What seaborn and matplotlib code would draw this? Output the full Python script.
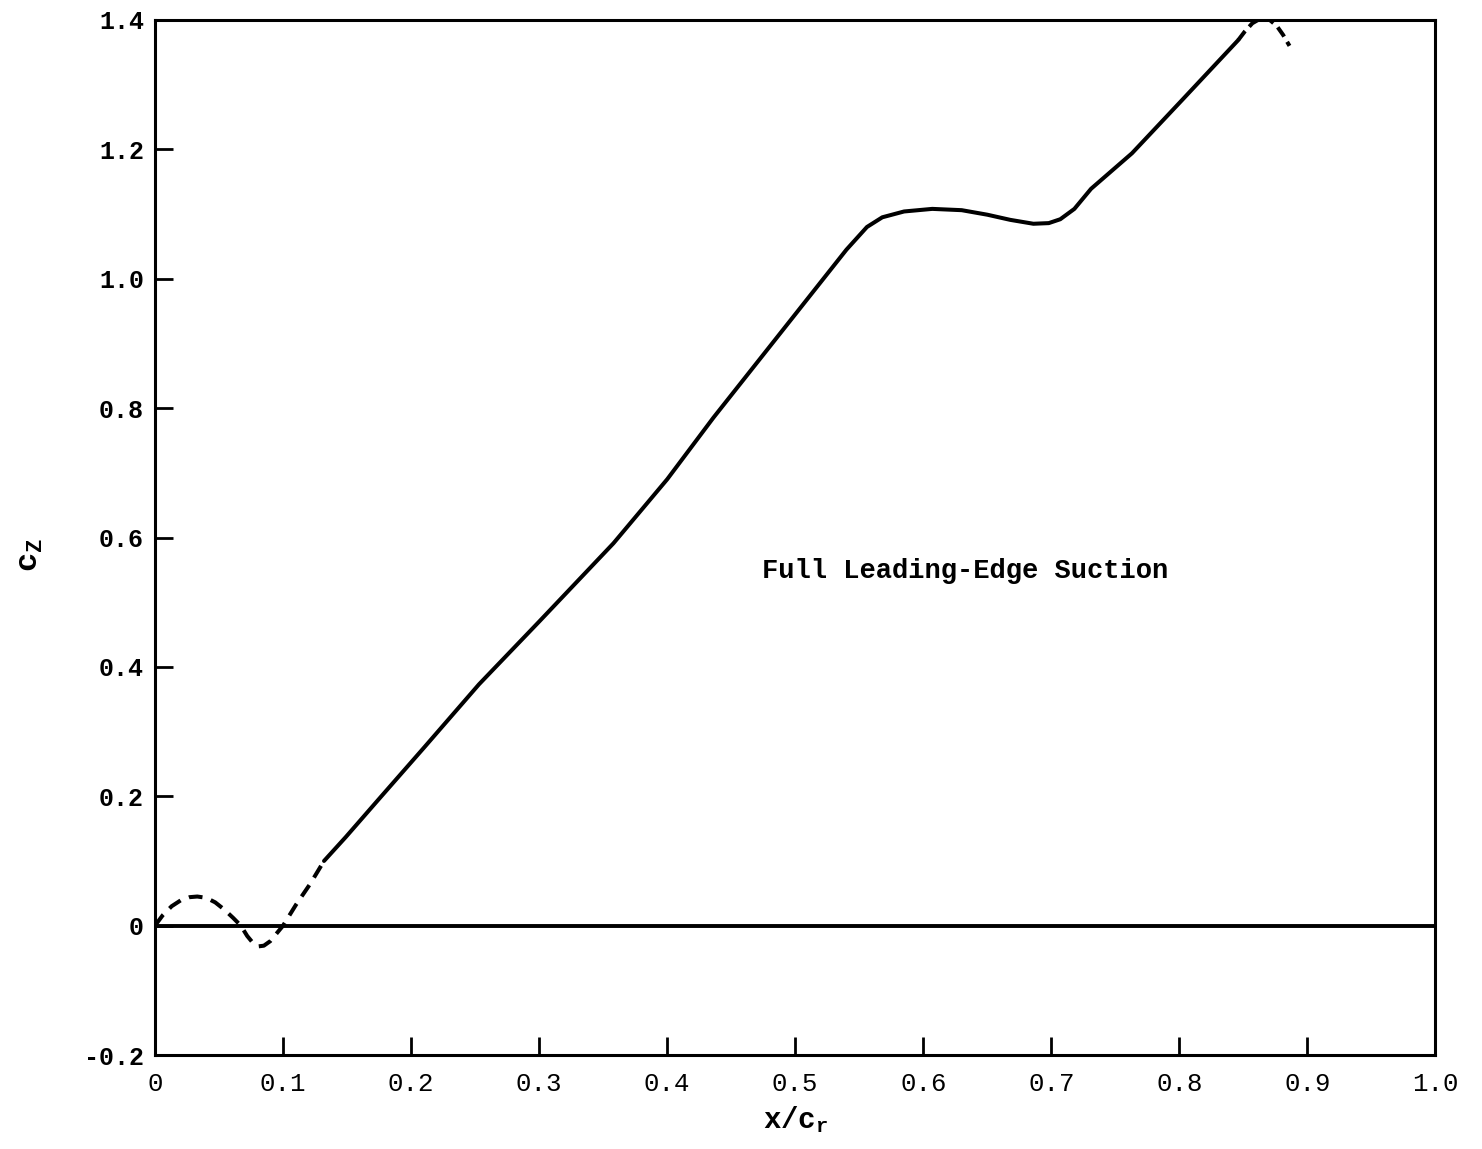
import numpy as np
import pandas as pd
import matplotlib
matplotlib.use("Agg")
import matplotlib.pyplot as plt
import seaborn as sns

# --- Data ---
# leading dashed part
x_lead = [0.0, 0.006, 0.013, 0.020, 0.027, 0.033, 0.040, 0.047, 0.054, 0.061, 0.067,
          0.072, 0.077, 0.081, 0.085, 0.090, 0.095, 0.100, 0.110, 0.121, 0.132]
y_lead = [0.0, 0.016, 0.030, 0.039, 0.044, 0.045, 0.043, 0.036, 0.025, 0.012, 0.000,
          -0.016, -0.028, -0.032, -0.031, -0.024, -0.012, 0.000, 0.032, 0.064, 0.100]

# main solid part
x_main = [0.132, 0.149, 0.175, 0.210, 0.253, 0.300, 0.358, 0.400, 0.436, 0.488, 0.520,
          0.540, 0.556, 0.568, 0.585, 0.607, 0.630, 0.650, 0.668, 0.686, 0.698, 0.707,
          0.718, 0.731, 0.763, 0.802, 0.846]
y_main = [0.100, 0.137, 0.196, 0.275, 0.373, 0.470, 0.591, 0.690, 0.785, 0.915, 0.995,
          1.045, 1.080, 1.095, 1.104, 1.108, 1.106, 1.099, 1.091, 1.085, 1.086, 1.092,
          1.108, 1.139, 1.194, 1.276, 1.369]

# trailing dashed part
x_tail = [0.846, 0.851, 0.857, 0.864, 0.870, 0.876, 0.881, 0.886]
y_tail = [1.369, 1.382, 1.395, 1.403, 1.401, 1.391, 1.377, 1.360]

x_ticks = [0, 0.1, 0.2, 0.3, 0.4, 0.5, 0.6, 0.7, 0.8, 0.9, 1.0]
x_labels = ["0", "0.1", "0.2", "0.3", "0.4", "0.5", "0.6", "0.7", "0.8", "0.9", "1.0"]
y_ticks = [-0.2, 0, 0.2, 0.4, 0.6, 0.8, 1.0, 1.2, 1.4]
y_labels = ["-0.2", "0", "0.2", "0.4", "0.6", "0.8", "1.0", "1.2", "1.4"]

# --- Style ---
sns.set_style("ticks")
plt.rcParams['font.family'] = ['Liberation Mono', 'DejaVu Sans']
plt.rcParams['text.color'] = 'black'
plt.rcParams['axes.labelcolor'] = 'black'
plt.rcParams['mathtext.fontset'] = 'custom'
plt.rcParams['mathtext.rm'] = 'Liberation Mono'
plt.rcParams['mathtext.it'] = 'Liberation Mono'
plt.rcParams['mathtext.bf'] = 'Liberation Mono:bold'

fig = plt.figure(figsize=(14.82, 11.49), dpi=100)
ax = fig.add_axes([0.1046, 0.0818, 0.864, 0.9008])

lw = 2.9
lead_df = pd.DataFrame({"x": x_lead, "y": y_lead})
main_df = pd.DataFrame({"x": x_main, "y": y_main})
tail_df = pd.DataFrame({"x": x_tail, "y": y_tail})

sns.lineplot(data=lead_df, x="x", y="y", sort=False, estimator=None, ax=ax,
             color="black", lw=lw, linestyle=(0, (3.4, 2.2)))
sns.lineplot(data=main_df, x="x", y="y", sort=False, estimator=None, ax=ax,
             color="black", lw=lw)
sns.lineplot(data=tail_df, x="x", y="y", sort=False, estimator=None, ax=ax,
             color="black", lw=lw, linestyle=(0, (2.8, 1.5)))

# zero line
ax.axhline(0, color="black", lw=2.8, zorder=1)

ax.set_xlim(0, 1.0)
ax.set_ylim(-0.2, 1.4)
ax.set_xticks(x_ticks)
ax.set_xticklabels(x_labels, fontsize=18.5)
ax.set_yticks(y_ticks)
ax.set_yticklabels(y_labels, fontsize=18, fontweight="bold")

ax.tick_params(axis="both", direction="in", length=13, width=2, colors="black",
               top=False, right=False)
ax.tick_params(axis="x", pad=12)
ax.tick_params(axis="y", pad=8)

for side in ["left", "right", "top", "bottom"]:
    ax.spines[side].set_visible(True)
    ax.spines[side].set_linewidth(2.2)
    ax.spines[side].set_color("black")

ax.set_xlabel(r"$\mathbf{x/c}_{\mathbf{r}}$", fontsize=21, labelpad=6)
ax.set_ylabel(r"$\mathbf{c}_{\mathbf{Z}}$", fontsize=23)
ax.yaxis.set_label_coords(-0.086, 0.483)

ax.text(0.474, 0.548, "Full Leading-Edge Suction", fontsize=19.5,
        fontweight="bold", ha="left", va="center")

fig.savefig("out.png", dpi=100)
